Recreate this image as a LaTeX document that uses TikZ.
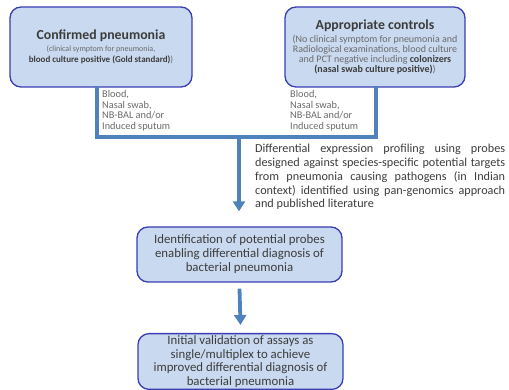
\documentclass[tikz,border=0pt]{standalone}
\usepackage{fontspec}
\setmainfont{Carlito}
\usetikzlibrary{arrows.meta}
\definecolor{boxfill}{HTML}{C9D9EF}
\definecolor{boxline}{HTML}{3A3DB5}
\definecolor{flow}{HTML}{4F81BD}
\definecolor{bodytext}{HTML}{3C3C3C}
\definecolor{softtext}{HTML}{6A6A6A}
\tikzset{
  stagebox/.style={draw=boxline, fill=boxfill, line width=1.3pt, rounded corners=11pt,
    align=center, inner sep=2pt, text=bodytext},
  flowbar/.style={draw=flow, line width=3.8pt},
  flowarrow/.style={draw=flow, line width=3.8pt, -{Triangle[width=12pt,length=10pt]}},
  samplelist/.style={anchor=north west, align=left, text=softtext,
    font=\fontsize{10.3}{10.7}\selectfont, inner sep=0pt},
}
\begin{document}
\begin{tikzpicture}[x=1pt,y=-1pt]
\useasboundingbox (0,0) rectangle (509,390);

% study groups
\node[stagebox, minimum width=182pt, minimum height=80pt,
  font=\fontsize{8}{11}\selectfont] (cases) at (101,47)
  {{\fontsize{13.8}{13}\selectfont\bfseries Confirmed pneumonia}\\[1.5pt]
   {\color{softtext}(clinical symptom for pneumonia,}\\
   {\fontsize{9}{11}\selectfont\bfseries blood culture positive (Gold standard)\mdseries\color{softtext})}};

\node[stagebox, minimum width=180pt, minimum height=80pt,
  font=\fontsize{10}{10.1}\selectfont] (controls) at (375,47)
  {{\fontsize{13.8}{13}\selectfont\bfseries Appropriate controls}\\[3pt]
   {\color{softtext}(No clinical symptom for pneumonia and}\\
   {\color{softtext}Radiological examinations, blood culture}\\
   {\color{softtext}and PCT negative including} \textbf{colonizers}\\
   \textbf{(nasal swab culture positive)}{\color{softtext})}};

% downstream stages
\node[stagebox, minimum width=205pt, minimum height=55pt,
  font=\fontsize{12.8}{14}\selectfont] (probes) at (239.5,254.5)
  {Identification of potential probes\\enabling differential diagnosis of\\bacterial pneumonia};

\node[stagebox, minimum width=205pt, minimum height=53pt,
  font=\fontsize{12.8}{13.6}\selectfont] (validation) at (240.5,361.5)
  {Initial validation of assays as\\single/multiplex to achieve\\improved differential diagnosis of\\bacterial pneumonia};

% sample types collected from each group
\node[samplelist] (casesamples) at (102,90)
  {Blood,\\Nasal swab,\\NB-BAL and/or\\Induced sputum};
\node[samplelist] (ctrlsamples) at (290,90)
  {Blood,\\Nasal swab,\\NB-BAL and/or\\Induced sputum};

% merging connector
\coordinate (merge) at (239,137);
\draw[flowbar, line cap=rect] ([xshift=-4pt]cases.south) |- (merge) -| ([xshift=1pt]controls.south);
\draw[flowarrow] (merge) -- ([yshift=15pt]probes.north -| merge);
\draw[flowarrow] ([yshift=-6pt]probes.south) -- ([yshift=8pt]validation.north);

% profiling description
\node[anchor=north west, text width=250pt, align=justify, inner sep=0pt, text=bodytext,
  font=\fontsize{12.2}{13.8}\selectfont] (profiling) at (255,144)
  {\hyphenpenalty=10000\exhyphenpenalty=10000
   Differential expression profiling using probes\linebreak
   designed against species-specific potential targets\linebreak
   from pneumonia causing pathogens (in Indian\linebreak
   context) identified using pan-genomics approach\linebreak
   and published literature};
\end{tikzpicture}
\end{document}
